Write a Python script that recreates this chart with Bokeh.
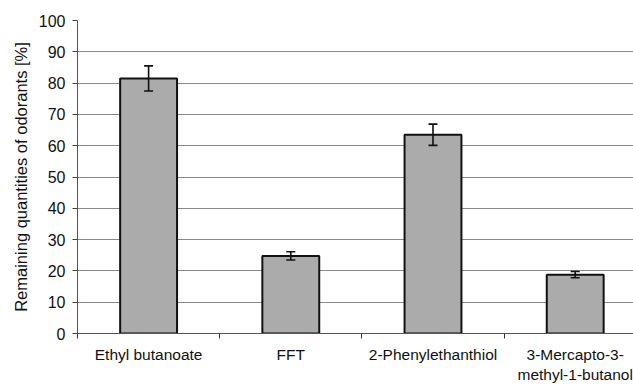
from bokeh.plotting import figure
from bokeh.models import Range1d, FixedTicker, Whisker, TeeHead, ColumnDataSource
from bokeh.embed import file_html
from bokeh.resources import INLINE

categories = ["Ethyl butanoate", "FFT", "2-Phenylethanthiol", "3-Mercapto-3-\nmethyl-1-butanol"]
values = [81.5, 24.8, 63.5, 18.8]
errors = [4.0, 1.3, 3.4, 1.0]
y_ticks = [0, 10, 20, 30, 40, 50, 60, 70, 80, 90, 100]

xs = list(range(len(categories)))
src = ColumnDataSource(dict(
    x=xs, top=values,
    upper=[v + e for v, e in zip(values, errors)],
    lower=[v - e for v, e in zip(values, errors)],
))

p = figure(width=633, height=385, output_backend="svg", toolbar_location=None,
           x_range=Range1d(-0.5, 3.41), y_range=Range1d(0, 100),
           min_border_left=77, min_border_right=0, min_border_top=20, min_border_bottom=52)
p.outline_line_color = None
p.background_fill_color = "white"
p.border_fill_color = "white"

p.vbar(x="x", top="top", width=0.4, bottom=0, source=src,
       fill_color="#ababab", line_color="#111111", line_width=2)

w = Whisker(base="x", upper="upper", lower="lower", source=src, level="overlay",
            line_color="#111111", line_width=1.6,
            upper_head=TeeHead(size=9, line_color="#111111", line_width=1.6),
            lower_head=TeeHead(size=9, line_color="#111111", line_width=1.6))
p.add_layout(w)

# x axis
p.xaxis.ticker = FixedTicker(ticks=xs, minor_ticks=[-0.5, 0.5, 1.5, 2.5, 3.5])
p.xaxis.major_label_overrides = {i: c for i, c in enumerate(categories)}
p.xaxis.major_tick_out = 0
p.xaxis.major_tick_in = 0
p.xaxis.minor_tick_out = 5
p.xaxis.minor_tick_in = 0
p.xaxis.minor_tick_line_color = "#333333"
p.xaxis.axis_line_color = "#555555"
p.xaxis.major_label_standoff = 7
p.xaxis.major_label_text_font = "Liberation Sans"
p.xaxis.major_label_text_font_size = "15.5px"
p.xaxis.major_label_text_color = "#111111"

# y axis
p.yaxis.ticker = FixedTicker(ticks=y_ticks, minor_ticks=[])
p.yaxis.major_tick_out = 5
p.yaxis.major_tick_in = 0
p.yaxis.major_tick_line_color = "#444444"
p.yaxis.axis_line_color = "#555555"
p.yaxis.major_label_standoff = 7
p.yaxis.major_label_text_font = "Liberation Sans"
p.yaxis.major_label_text_font_size = "16px"
p.yaxis.major_label_text_color = "#111111"
p.yaxis.axis_label = "Remaining quantities of odorants [%]"
p.yaxis.axis_label_text_font = "Liberation Sans"
p.yaxis.axis_label_text_font_size = "16.5px"
p.yaxis.axis_label_text_font_style = "normal"
p.yaxis.axis_label_text_color = "#111111"
p.yaxis.axis_label_standoff = 6

p.xgrid.grid_line_color = None
p.ygrid.ticker = FixedTicker(ticks=y_ticks[1:])
p.ygrid.grid_line_color = "#8a8a8a"
p.ygrid.grid_line_width = 1.2

open("out.html", "w").write(file_html(p, INLINE))
